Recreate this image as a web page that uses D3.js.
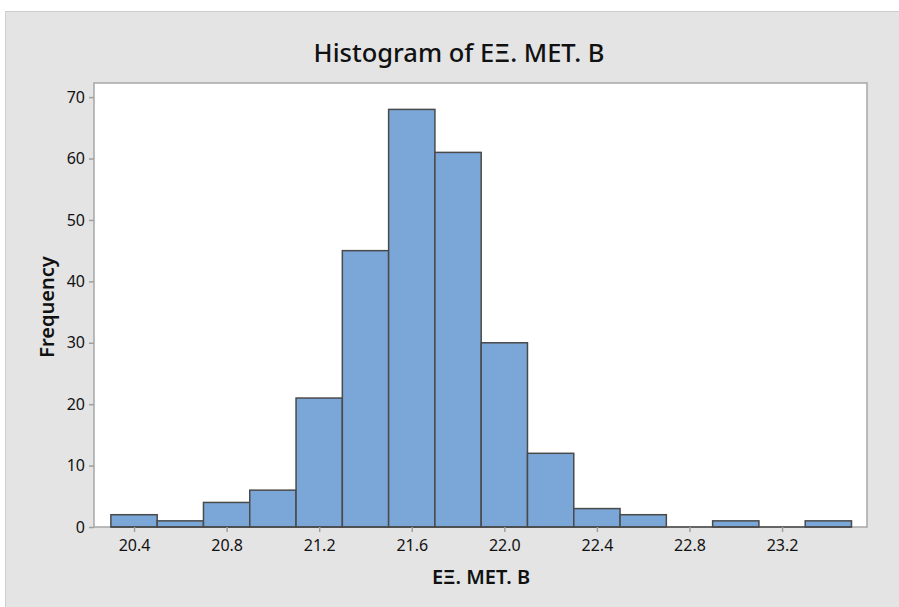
<!DOCTYPE html>
<html>
<head>
<meta charset="utf-8">
<script src="https://cdn.jsdelivr.net/npm/d3@7"></script>
<style>
  body { margin: 0; background: #fff; }
  text { font-family: "Noto Sans", "Open Sans", sans-serif; fill: #111; }
</style>
</head>
<body>
<svg width="899" height="607"></svg>
<script>
// bin centres and counts (bin width 0.2)
let binCenters = [20.4, 20.6, 20.8, 21.0, 21.2, 21.4, 21.6, 21.8, 22.0, 22.2, 22.4, 22.6, 22.8, 23.0, 23.2, 23.4]
let counts = [2, 1, 4, 6, 21, 45, 68, 61, 30, 12, 3, 2, 0, 1, 0, 1]
let xTicks = [20.4, 20.8, 21.2, 21.6, 22.0, 22.4, 22.8, 23.2]
let yTicks = [0, 10, 20, 30, 40, 50, 60, 70]
let binWidth = 0.2

let svg = d3.select("svg")

// gray panel
svg.append("rect")
    .attr("x", 5.5).attr("y", 11.5)
    .attr("width", 899).attr("height", 600)
    .attr("fill", "#e4e4e4")
    .attr("stroke", "#cfcfcf")

let plotLeft = 94, plotRight = 867, plotTop = 83, plotBottom = 527

let x = d3.scaleLinear().domain([20.227, 23.567]).range([plotLeft, plotRight])
let y = d3.scaleLinear().domain([0, 72.3]).range([plotBottom, plotTop])

// plot area
svg.append("rect")
    .attr("x", plotLeft).attr("y", plotTop)
    .attr("width", plotRight - plotLeft).attr("height", plotBottom - plotTop)
    .attr("fill", "white")
    .attr("stroke", "#a6a6a6")
    .attr("stroke-width", 1.5)

// bars
svg.selectAll(".bar")
    .data(binCenters)
    .enter()
    .append("rect")
    .attr("class", "bar")
    .attr("x", d => x(d - binWidth / 2))
    .attr("width", d => x(d + binWidth / 2) - x(d - binWidth / 2))
    .attr("y", (d, i) => y(counts[i]))
    .attr("height", (d, i) => y(0) - y(counts[i]))
    .attr("fill", "#7ba6d8")
    .attr("stroke", "#4a4a4a")
    .attr("stroke-width", 1.5)

// bottom edge of every bin (so empty bins still show a dark line)
svg.selectAll(".base")
    .data(binCenters)
    .enter()
    .append("line")
    .attr("x1", d => x(d - binWidth / 2))
    .attr("x2", d => x(d + binWidth / 2))
    .attr("y1", y(0)).attr("y2", y(0))
    .attr("stroke", "#4a4a4a")
    .attr("stroke-width", 1.5)

// axes
let xAxis = svg.append("g")
    .attr("transform", `translate(0,${plotBottom})`)
    .call(d3.axisBottom(x).tickValues(xTicks).tickFormat(d3.format(".1f")).tickSize(5).tickPadding(8))
let yAxis = svg.append("g")
    .attr("transform", `translate(${plotLeft},0)`)
    .call(d3.axisLeft(y).tickValues(yTicks).tickSize(5).tickPadding(4))

for (let ax of [xAxis, yAxis]) {
    ax.select(".domain").remove()
    ax.selectAll(".tick line").attr("stroke", "#a0a0a0").attr("stroke-width", 1.5)
    ax.selectAll(".tick text")
        .attr("font-family", "Noto Sans, sans-serif")
        .attr("font-size", 16)
        .attr("fill", "#111")
}

// titles
svg.append("text")
    .attr("x", 459).attr("y", 62)
    .attr("text-anchor", "middle")
    .attr("font-size", 25.5)
    .attr("font-weight", 500)
    .text("Histogram of ΕΞ. ΜΕΤ. Β")

svg.append("text")
    .attr("x", 481).attr("y", 584)
    .attr("text-anchor", "middle")
    .attr("font-size", 20)
    .attr("font-weight", 600)
    .text("ΕΞ. ΜΕΤ. Β")

svg.append("text")
    .attr("transform", "translate(54,307) rotate(-90)")
    .attr("text-anchor", "middle")
    .attr("font-size", 20)
    .attr("font-weight", 600)
    .text("Frequency")
</script>
</body>
</html>
